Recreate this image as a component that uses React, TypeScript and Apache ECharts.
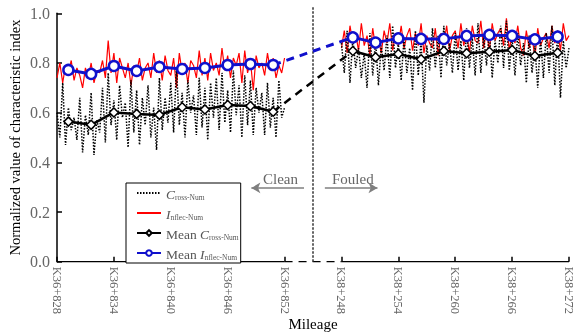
import React, { useEffect, useRef } from "react";
import * as echarts from "echarts";

// Plot positions (m along the plotted axis): 0 = K36+828, 24 = K36+852, 30 = K38+248, 54 = K38+272
const tickPos = [0, 6, 12, 18, 24, 30, 36, 42, 48, 54];
const tickLabels = ["K36+828", "K36+834", "K36+840", "K36+846", "K36+852", "K38+248", "K38+254", "K38+260", "K38+266", "K38+272"];

const rawStep = 0.3;
const leftStart = 0;
const rightStart = 30;

const inflecLeft = [
  0.74, 0.80, 0.72, 0.79, 0.76, 0.81, 0.73, 0.78,
  0.75, 0.70, 0.78, 0.74, 0.80, 0.72, 0.77, 0.76,
  0.81, 0.74, 0.89, 0.76, 0.84, 0.72, 0.82, 0.78,
  0.74, 0.80, 0.71, 0.79, 0.76, 0.82, 0.73, 0.78,
  0.80, 0.74, 0.84, 0.76, 0.81, 0.73, 0.83, 0.77,
  0.75, 0.82, 0.70, 0.84, 0.76, 0.80, 0.72, 0.81,
  0.79, 0.74, 0.85, 0.75, 0.82, 0.73, 0.84, 0.77,
  0.80, 0.75, 0.86, 0.77, 0.83, 0.74, 0.82, 0.79,
  0.84, 0.72, 0.85, 0.76, 0.81, 0.69, 0.83, 0.78,
  0.80, 0.75, 0.84, 0.77, 0.82, 0.74, 0.79, 0.76,
  0.82,
];
const crossLeft = [
  0.60, 0.50, 0.72, 0.47, 0.62, 0.53, 0.58, 0.49,
  0.66, 0.44, 0.59, 0.51, 0.68, 0.43, 0.57, 0.52,
  0.70, 0.48, 0.76, 0.55, 0.65, 0.49, 0.71, 0.58,
  0.64, 0.46, 0.73, 0.52, 0.69, 0.47, 0.66, 0.55,
  0.71, 0.50, 0.62, 0.45, 0.74, 0.53, 0.66, 0.56,
  0.72, 0.52, 0.78, 0.55, 0.68, 0.50, 0.73, 0.60,
  0.67, 0.51, 0.74, 0.54, 0.70, 0.49, 0.72, 0.58,
  0.74, 0.53, 0.76, 0.56, 0.69, 0.52, 0.77, 0.59,
  0.71, 0.50, 0.75, 0.55, 0.73, 0.51, 0.70, 0.60,
  0.68, 0.51, 0.72, 0.54, 0.66, 0.50, 0.73, 0.58,
  0.62,
];
const inflecRight = [
  0.86, 0.93, 0.84, 0.95, 0.88, 0.92, 0.85, 0.96,
  0.87, 0.91, 0.83, 0.94, 0.86, 0.90, 0.84, 0.93,
  0.88, 0.96, 0.85, 0.92, 0.87, 0.95, 0.86, 0.91,
  0.94, 0.85, 0.92, 0.87, 0.96, 0.84, 0.91, 0.88,
  0.86, 0.94, 0.83, 0.92, 0.88, 0.95, 0.85, 0.91,
  0.93, 0.86, 0.96, 0.87, 0.92, 0.84, 0.95, 0.89,
  0.88, 0.97, 0.86, 0.93, 0.85, 0.96, 0.89, 0.92,
  0.94, 0.87, 0.98, 0.85, 0.92, 0.88, 0.95, 0.86,
  0.83, 0.93, 0.86, 0.91, 0.82, 0.94, 0.87, 0.90,
  0.92, 0.86, 0.95, 0.88, 0.93, 0.85, 0.96, 0.89,
  0.91,
];
const crossRight = [
  0.88, 0.76, 0.93, 0.72, 0.90, 0.78, 0.86, 0.74,
  0.84, 0.70, 0.92, 0.75, 0.89, 0.71, 0.87, 0.77,
  0.91, 0.74, 0.95, 0.78, 0.88, 0.73, 0.90, 0.76,
  0.86, 0.69, 0.93, 0.75, 0.89, 0.64, 0.87, 0.77,
  0.94, 0.78, 0.91, 0.74, 0.95, 0.79, 0.88, 0.76,
  0.92, 0.77, 0.89, 0.73, 0.94, 0.78, 0.90, 0.75,
  0.96, 0.76, 0.91, 0.79, 0.93, 0.74, 0.89, 0.80,
  0.95, 0.78, 0.97, 0.77, 0.90, 0.75, 0.92, 0.79,
  0.88, 0.72, 0.91, 0.76, 0.87, 0.70, 0.90, 0.74,
  0.92, 0.76, 0.95, 0.71, 0.93, 0.66, 0.89, 0.78,
  0.86,
];

const meanPosLeft = [1.2, 3.6, 6.0, 8.4, 10.8, 13.2, 15.6, 18.0, 20.4, 22.8];
const meanPosRight = [31.2, 33.6, 36.0, 38.4, 40.8, 43.2, 45.6, 48.0, 50.4, 52.8];
const meanInflecLeft = [0.772, 0.756, 0.788, 0.768, 0.784, 0.776, 0.780, 0.792, 0.796, 0.792];
const meanCrossLeft = [0.564, 0.551, 0.601, 0.595, 0.591, 0.622, 0.613, 0.631, 0.627, 0.604];
const meanInflecRight = [0.903, 0.882, 0.899, 0.897, 0.897, 0.909, 0.913, 0.909, 0.895, 0.906];
const meanCrossRight = [0.848, 0.823, 0.836, 0.815, 0.848, 0.839, 0.845, 0.852, 0.828, 0.841];

const boundaryPos = 27;

const SERIF = "'Liberation Serif', 'Times New Roman', serif";

function raw(start: number, vals: number[]) {
  return vals.map((v, i) => [+(start + i * rawStep).toFixed(2), v]);
}
function pairs(xs: number[], ys: number[]) {
  return xs.map((x, i) => [x, ys[i]]);
}

export default function App() {
  const ref = useRef<HTMLDivElement>(null);
  useEffect(() => {
    if (!ref.current) return;
    const chart = echarts.init(ref.current, null, { renderer: "svg" });

    const redStyle = { color: "#ff0000", width: 1.2 };
    const dotStyle = { color: "#000", width: 1.5, type: [1.5, 1.5] as any };
    const meanC = {
      type: "line",
      symbol: "diamond",
      symbolSize: 9,
      lineStyle: { color: "#000", width: 2.5 },
      itemStyle: { color: "#fff", borderColor: "#000", borderWidth: 1.5 },
      z: 4,
    };
    const meanI = {
      type: "line",
      symbol: "circle",
      symbolSize: 10,
      lineStyle: { color: "#1010cc", width: 3 },
      itemStyle: { color: "#fff", borderColor: "#1010cc", borderWidth: 2.5 },
      z: 5,
    };

    const legendNames: Record<string, string> = {
      "Cross-Num": "{i|C}{s|ross-Num}",
      "Inflec-Num": "{i|I}{s|nflec-Num}",
      "Mean Cross-Num": "{n|Mean }{i|C}{s|ross-Num}",
      "Mean Inflec-Num": "{n|Mean }{i|I}{s|nflec-Num}",
    };

    chart.setOption({
      animation: false,
      grid: { left: 57, right: 10, top: 13.3, bottom: 73.3, outerBoundsMode: "none", containLabel: false },
      xAxis: {
        type: "value",
        min: 0,
        max: 54,
        interval: 6,
        axisLine: { show: false },
        axisTick: { show: true, inside: true, length: 5, lineStyle: { color: "#000", width: 1.5 } },
        splitLine: { show: false },
        axisLabel: {
          rotate: -90,
          margin: 5,
          color: "#666",
          fontFamily: SERIF,
          fontSize: 12.5,
          formatter: (v: number) => {
            const k = tickPos.indexOf(v);
            return k >= 0 ? tickLabels[k] : "";
          },
        },
        name: "Mileage",
        nameLocation: "middle",
        nameGap: 55,
        nameMoveOverlap: false,
        nameTextStyle: { color: "#000", fontFamily: SERIF, fontSize: 15 },
      },
      yAxis: {
        type: "value",
        min: 0,
        max: 1,
        interval: 0.2,
        axisLine: { show: true, lineStyle: { color: "#000", width: 1.5 } },
        axisTick: { show: true, inside: true, length: 5, lineStyle: { color: "#000", width: 1.5 } },
        splitLine: { show: false },
        axisLabel: {
          margin: 7,
          color: "#666",
          fontFamily: SERIF,
          fontSize: 16,
          formatter: (v: number) => v.toFixed(1),
        },
        name: "Normalized value of characteristic index",
        nameLocation: "middle",
        nameGap: 35,
        nameMoveOverlap: false,
        nameTextStyle: { color: "#000", fontFamily: SERIF, fontSize: 14.5 },
      },
      legend: {
        data: [
          { name: "Cross-Num", itemStyle: { opacity: 0 } },
          { name: "Inflec-Num", itemStyle: { opacity: 0 } },
          { name: "Mean Cross-Num" },
          { name: "Mean Inflec-Num" },
        ],
        orient: "vertical",
        left: 126,
        top: 183,
        itemWidth: 24,
        itemHeight: 7,
        itemGap: 6,
        itemTextGap: 4,
        padding: [4, 2, 2, 10],
        backgroundColor: "#fff",
        borderColor: "#000",
        borderWidth: 1,
        borderRadius: 0,
        formatter: (name: string) => legendNames[name] || name,
        textStyle: {
          color: "#555",
          fontFamily: SERIF,
          rich: {
            n: { fontFamily: SERIF, fontSize: 13.5, color: "#555", lineHeight: 16, verticalAlign: "bottom" },
            i: { fontFamily: SERIF, fontSize: 13.5, fontStyle: "italic", color: "#555", lineHeight: 16, verticalAlign: "bottom" },
            s: { fontFamily: SERIF, fontSize: 7.5, color: "#555", lineHeight: 11, verticalAlign: "bottom" },
          },
        },
      },
      series: [
        // axis baseline: solid / dashed gap / solid
        { type: "line", name: "axisL", data: [[0, 0], [24, 0]], symbol: "none", silent: true, lineStyle: { color: "#000", width: 1.5 }, z: 1 },
        { type: "line", name: "axisG", data: [[24, 0], [30, 0]], symbol: "none", silent: true, lineStyle: { color: "#000", width: 1.5, type: [8, 6] as any }, z: 1 },
        { type: "line", name: "axisR", data: [[30, 0], [54, 0]], symbol: "none", silent: true, lineStyle: { color: "#000", width: 1.5 }, z: 1 },
        // boundary line
        {
          type: "line",
          name: "boundary",
          data: [[boundaryPos, 0], [boundaryPos, 1.025]],
          symbol: "none",
          silent: true,
          clip: false,
          lineStyle: { color: "#333", width: 1.5, type: [2.5, 1.5] as any },
          z: 1,
        },
        // annotation arrows
        {
          type: "line",
          name: "arrows",
          data: [],
          silent: true,
          markLine: {
            silent: true,
            symbol: ["none", "arrow"],
            symbolSize: [8, 9],
            label: { show: false },
            lineStyle: { color: "#7f7f7f", width: 1.5, type: "solid" },
            data: [
              [{ coord: [26.05, 0.297] }, { coord: [20.5, 0.297] }],
              [{ coord: [28.25, 0.297] }, { coord: [33.8, 0.297] }],
            ],
          },
        },
        { type: "line", name: "Inflec-Num", data: raw(leftStart, inflecLeft), symbol: "none", lineStyle: redStyle, itemStyle: { color: "#ff0000" }, z: 2 },
        { type: "line", name: "Inflec-Num-R", data: raw(rightStart, inflecRight), symbol: "none", lineStyle: redStyle, z: 2 },
        { type: "line", name: "Cross-Num", data: raw(leftStart, crossLeft), symbol: "none", lineStyle: dotStyle, itemStyle: { color: "#000" }, z: 3 },
        { type: "line", name: "Cross-Num-R", data: raw(rightStart, crossRight), symbol: "none", lineStyle: dotStyle, z: 3 },
        { ...meanC, name: "Mean Cross-Num", data: pairs(meanPosLeft, meanCrossLeft) },
        { ...meanC, name: "Mean Cross-Num-R", data: pairs(meanPosRight, meanCrossRight) },
        {
          type: "line",
          name: "Mean Cross-Num-gap",
          data: [[meanPosLeft[9], meanCrossLeft[9]], [meanPosRight[0], meanCrossRight[0]]],
          symbol: "none",
          lineStyle: { color: "#000", width: 2.5, type: [8, 6] as any },
          z: 3.5,
        },
        { ...meanI, name: "Mean Inflec-Num", data: pairs(meanPosLeft, meanInflecLeft) },
        { ...meanI, name: "Mean Inflec-Num-R", data: pairs(meanPosRight, meanInflecRight) },
        {
          type: "line",
          name: "Mean Inflec-Num-gap",
          data: [[meanPosLeft[9], meanInflecLeft[9]], [meanPosRight[0], meanInflecRight[0]]],
          symbol: "none",
          lineStyle: { color: "#1010cc", width: 3, type: [8, 6] as any },
          z: 4.5,
        },
      ],
      graphic: [
        { type: "text", left: 263, top: 171, style: { text: "Clean", fontFamily: SERIF, fontSize: 15, fill: "#666" } },
        { type: "text", left: 332, top: 171, style: { text: "Fouled", fontFamily: SERIF, fontSize: 15, fill: "#666" } },
      ],
    });
    return () => chart.dispose();
  }, []);
  return <div ref={ref} style={{ position: "fixed", left: 0, top: 0, width: 579, height: 335 }} />;
}
